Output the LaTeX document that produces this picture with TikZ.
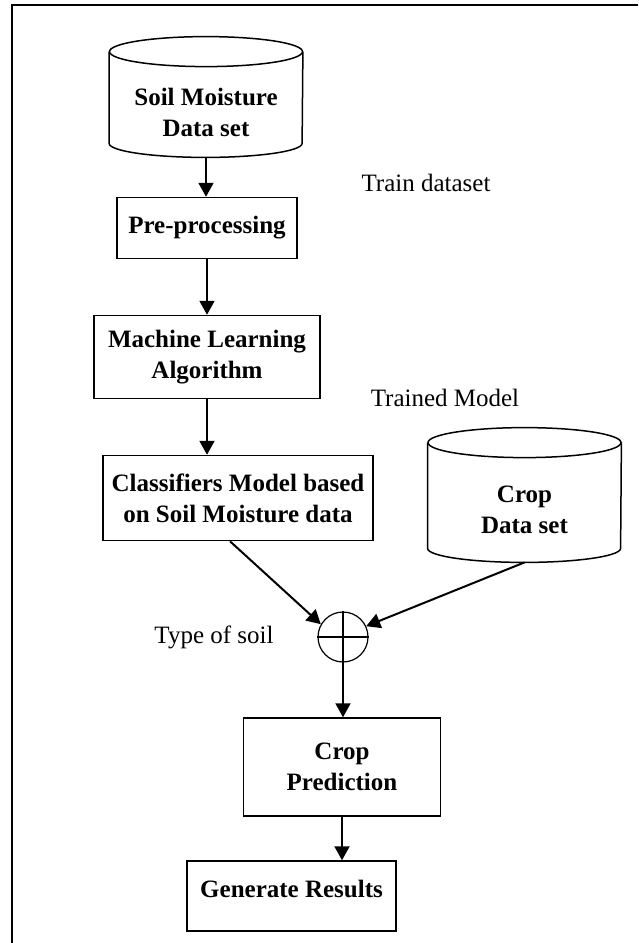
\documentclass[tikz,border=0pt]{standalone}
\usepackage{fontspec}
\setmainfont{Liberation Serif}
\usetikzlibrary{arrows.meta}
\definecolor{fg}{HTML}{000000}

\tikzset{
  box/.style={draw=fg, line width=0.75pt, align=center, inner sep=0pt, font=\fontsize{12.5}{15.5}\selectfont\bfseries},
  dbase/.style={align=center, inner sep=0pt, minimum width=96.5pt, font=\fontsize{12.5}{15.5}\selectfont\bfseries},
  note/.style={inner sep=0pt, font=\fontsize{12.5}{15.5}\selectfont},
  flow/.style={draw=fg, line width=1pt, -{Triangle[length=7pt, width=7.5pt]}},
}

\begin{document}
\begin{tikzpicture}[x=0.5pt, y=-0.5pt]
  \useasboundingbox (0,0) rectangle (638,943);
  \draw[draw=fg, line width=1pt] (638,5) -- (12,5) -- (12,943);

  % data stores
  \node[dbase, minimum height=45pt] (soildb) at (206,112) {Soil Moisture\\Data set};
  \node[dbase, minimum height=52pt] (cropdb) at (524.5,510) {Crop\\Data set};
  \foreach \db in {soildb,cropdb} {
    \draw[draw=fg, line width=0.75pt] ([yshift=7.5pt]\db.north west) -- ([yshift=7pt]\db.south west)
      arc[start angle=180, end angle=360, x radius=48.25pt, y radius=7pt] -- ([yshift=7.5pt]\db.north east);
    \draw[draw=fg, line width=0.75pt] ([yshift=7.5pt]\db.north) ellipse[x radius=48.25pt, y radius=7.5pt];
  }

  % steps
  \node[box, minimum width=90pt, minimum height=30.5pt] (prep) at (207,228) {Pre-processing};
  \node[box, minimum width=113pt, minimum height=41.5pt] (ml) at (207,357) {Machine Learning\\Algorithm};
  \node[box, minimum width=135pt, minimum height=42.5pt] (cls) at (238,498) {Classifiers Model based\\on Soil Moisture data};
  \node[draw=fg, line width=0.6pt, circle, minimum size=25pt, inner sep=0pt] (sum) at (343,637) {};
  \draw[draw=fg, line width=0.6pt] (sum.north) -- (sum.south) (sum.west) -- (sum.east);
  \node[box, minimum width=98.5pt, minimum height=49pt] (cpred) at (342,767) {Crop\\Prediction};
  \node[box, minimum width=104.5pt, minimum height=35pt, text height=8.5pt, text depth=7pt] (gen) at (291.5,896) {Generate Results};

  % labels
  \node[note] (traintxt) at (426,183) {Train dataset};
  \node[note] (trainedtxt) at (445,398) {Trained Model};
  \node[note] (soiltxt) at (214,637) {Type of soil};

  % arrows
  \draw[flow] (soildb.south) -- (soildb.south |- prep.north);
  \draw[flow] (prep.south) -- (ml.north);
  \draw[flow] (ml.south) -- (ml.south |- cls.north);
  \draw[flow] ([xshift=-4pt]cls.south) -- (sum.150);
  \draw[flow] (cropdb.south) -- (sum.25);
  \draw[flow] (sum.south) -- (sum.south |- cpred.north);
  \draw[flow] (cpred.south) -- (cpred.south |- gen.north);
\end{tikzpicture}
\end{document}
